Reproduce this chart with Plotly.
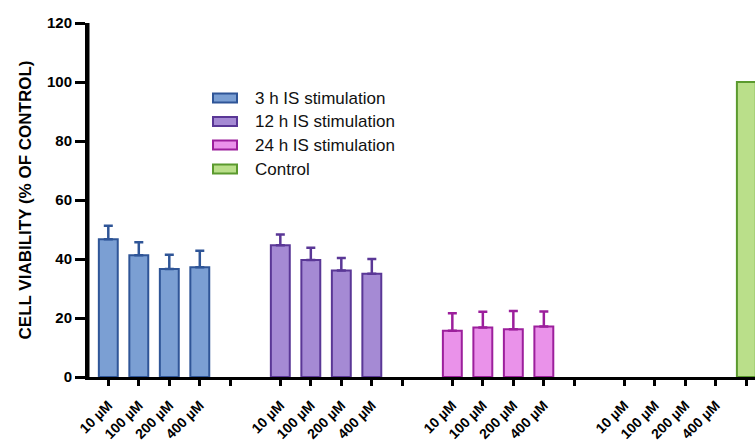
import plotly.graph_objects as go

# ---------------- data ----------------
concentrations = ["10 µM", "100 µM", "200 µM", "400 µM"]
series_names = ["3 h IS stimulation", "12 h IS stimulation", "24 h IS stimulation", "Control"]

means_3h = [46.7, 41.3, 36.6, 37.2]
sd_3h = [4.6, 4.4, 4.8, 5.6]
means_12h = [44.7, 39.7, 36.1, 35.0]
sd_12h = [3.6, 4.1, 4.2, 5.0]
means_24h = [15.7, 16.8, 16.2, 17.1]
sd_24h = [5.9, 5.3, 6.2, 5.1]
control_mean = [100.0]

y_ticks = [0, 20, 40, 60, 80, 100, 120]

# ---------------- styling ----------------
fills = ["#7B9FD3", "#A58AD4", "#EA92EA", "#BADF8A"]
lines = ["#2F5597", "#5A3796", "#9C1F9C", "#5B9A2E"]

GROUP_STEP = 5.64   # slots per group incl. gap
BAR_W = 0.62
FONT = "Arial, Liberation Sans, sans-serif"

W, H = 755, 441
ML, MR, MT, MB = 88, 0, 23, 64
PW, PH = W - ML - MR, H - MT - MB
PX_PER_SLOT = 30.5
x_left = -(108.3 - ML) / PX_PER_SLOT
x_right = x_left + PW / PX_PER_SLOT

fig = go.Figure()

groups = [(means_3h, sd_3h), (means_12h, sd_12h), (means_24h, sd_24h)]
for g, (m, sd) in enumerate(groups):
    xs = [g * GROUP_STEP + i for i in range(len(m))]
    fig.add_trace(go.Bar(
        x=xs, y=m, width=BAR_W, name=series_names[g],
        marker=dict(color=fills[g], line=dict(color=lines[g], width=2)),
        error_y=dict(type="data", symmetric=False, array=sd, arrayminus=[0] * len(sd),
                     color=lines[g], thickness=2.5, width=4.5),
        showlegend=False,
    ))

# control bar at last slot of the 4th group
fig.add_trace(go.Bar(
    x=[3 * GROUP_STEP + 4], y=control_mean, width=BAR_W, name=series_names[3],
    marker=dict(color=fills[3], line=dict(color=lines[3], width=2)),
    showlegend=False,
))

tickvals, ticktext = [], []
for g in range(4):
    for i in range(5):
        tickvals.append(g * GROUP_STEP + i)
        ticktext.append(concentrations[i] if i < 4 else "")

# ---------------- custom legend ----------------
def px2paper(px, py):
    return (px - ML) / PW, 1 - (py - MT) / PH

shapes, annots = [], []
leg_rows = [98, 121.5, 145, 169]
for k, name in enumerate(series_names):
    cy = leg_rows[k]
    x0, y0 = px2paper(213, cy - 4.5)
    x1, y1 = px2paper(237, cy + 4.5)
    shapes.append(dict(type="rect", xref="paper", yref="paper", x0=x0, x1=x1, y0=y1, y1=y0,
                       fillcolor=fills[k], line=dict(color=lines[k], width=2)))
    tx, ty = px2paper(253, cy)
    annots.append(dict(xref="paper", yref="paper", x=tx, y=ty, text=name, showarrow=False,
                       xanchor="left", yanchor="middle",
                       font=dict(family=FONT, size=17, color="#111")))

# y axis line drawn as a thick shape along the left edge of the plot
shapes.append(dict(type="line", xref="paper", yref="paper", x0=0, x1=0, y0=0, y1=1,
                   line=dict(color="black", width=3), layer="above"))

fig.update_layout(
    width=W, height=H,
    margin=dict(l=ML, r=MR, t=MT, b=MB),
    paper_bgcolor="white", plot_bgcolor="white",
    barmode="overlay",
    shapes=shapes, annotations=annots,
    font=dict(family=FONT, color="black"),
    xaxis=dict(
        range=[x_left, x_right], tickmode="array", tickvals=tickvals, ticktext=ticktext,
        tickangle=-45, showline=True, linecolor="black", linewidth=2.5,
        ticks="outside", ticklen=6, tickwidth=3, tickcolor="black",
        tickfont=dict(family=FONT, size=14, color="black", weight="bold"),
        ticklabelstandoff=6,
        showgrid=False, zeroline=False,
    ),
    yaxis=dict(
        range=[0, 120], tickvals=y_ticks,
        showline=True, linecolor="black", linewidth=3,
        ticks="outside", ticklen=10, tickwidth=3, tickcolor="black",
        tickfont=dict(family=FONT, size=15, color="black", weight="bold"),
        showgrid=False, zeroline=False,
        title=dict(text="CELL VIABILITY (% OF CONTROL)", standoff=12,
                   font=dict(family=FONT, size=17, color="black", weight="bold")),
    ),
)

fig.write_html("out.html")
